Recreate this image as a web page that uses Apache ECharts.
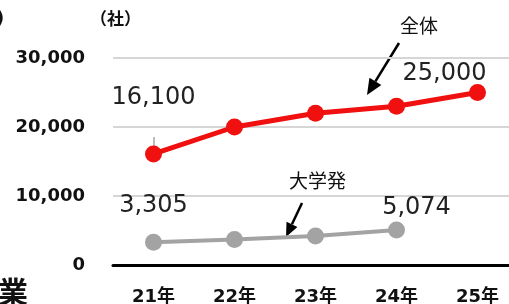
<!DOCTYPE html>
<html>
<head>
<meta charset="utf-8">
<script src="https://cdn.jsdelivr.net/npm/echarts@6/dist/echarts.min.js"></script>
<style>
  html, body { margin: 0; padding: 0; background: #fff; }
  #main { width: 509px; height: 304px; }
</style>
</head>
<body>
<div id="main"></div>
<script>
// data
const years = ['21年', '22年', '23年', '24年', '25年'];
const zentai = [16100, 20000, 22000, 23000, 25000];
const daigaku = [3305, 3700, 4200, 5074, null];
const yTicks = [0, 10000, 20000, 30000];

const numFont = "'DejaVu Sans', 'Noto Sans CJK JP', sans-serif";
const jpFont = "'Noto Sans CJK JP', sans-serif";

// arrow for the annotations
function arrow(x1, y1, x2, y2, hl, hw) {
  const dx = x2 - x1, dy = y2 - y1;
  const len = Math.sqrt(dx * dx + dy * dy);
  const ux = dx / len, uy = dy / len;
  const bx = x2 - ux * hl, by = y2 - uy * hl;
  const px = -uy * hw, py = ux * hw;
  return [
    { type: 'line', shape: { x1: x1, y1: y1, x2: bx, y2: by }, style: { stroke: '#000', lineWidth: 2.5 } },
    { type: 'polygon', shape: { points: [[x2, y2], [bx + px, by + py], [bx - px, by - py]] }, style: { fill: '#000' } }
  ];
}

// label only on some points
function withLabels(values, shown) {
  return values.map((v, i) => {
    if (shown[i]) {
      return { value: v, label: Object.assign({ show: true }, shown[i]) };
    }
    return v;
  });
}

const chart = echarts.init(document.getElementById('main'));

const option = {
  animation: false,
  grid: { left: 113, right: -9, top: 58, bottom: 39, containLabel: false, outerBoundsMode: 'none' },
  xAxis: {
    type: 'category',
    data: years,
    boundaryGap: true,
    axisLine: { lineStyle: { color: '#000', width: 3 } },
    axisTick: { inside: true, length: 8, lineStyle: { color: '#000', width: 3 } },
    axisLabel: { color: '#111', fontSize: 18, fontWeight: 'bold', fontFamily: numFont, margin: 23 }
  },
  yAxis: {
    type: 'value',
    min: 0,
    max: yTicks[yTicks.length - 1],
    interval: 10000,
    axisLine: { show: false },
    axisTick: { show: false },
    splitLine: { lineStyle: { color: '#d6d6d6', width: 2 } },
    axisLabel: {
      color: '#111', fontSize: 18, fontWeight: 'bold', fontFamily: numFont, margin: 28,
      formatter: v => v.toLocaleString('en-US')
    }
  },
  series: [
    {
      name: '全体',
      type: 'line',
      data: withLabels(zentai, {
        0: { position: 'top', distance: 36 },
        4: { position: 'top', offset: [-33, 0], distance: -2 }
      }),
      symbol: 'circle',
      symbolSize: 17,
      lineStyle: { color: '#f01010', width: 5 },
      itemStyle: { color: '#f01010' },
      label: { fontSize: 24, color: '#222', fontFamily: numFont, formatter: p => p.value.toLocaleString('en-US') },
      z: 3
    },
    {
      name: '大学発',
      type: 'line',
      data: withLabels(daigaku, {
        0: { position: 'top', distance: 16 },
        3: { position: 'top', offset: [20, 0], distance: 2 }
      }),
      symbol: 'circle',
      symbolSize: 17,
      lineStyle: { color: '#a3a3a3', width: 4 },
      itemStyle: { color: '#a3a3a3' },
      label: { fontSize: 24, color: '#222', fontFamily: numFont, formatter: p => p.value.toLocaleString('en-US') },
      z: 2
    }
  ],
  graphic: [
    { type: 'text', left: -4, top: 10, style: { text: ')', fontSize: 18, fontWeight: 'bold', fill: '#111', fontFamily: numFont } },
    { type: 'text', left: 90, top: 10, style: { text: '（社）', fontSize: 17, fontWeight: 'bold', fill: '#111', fontFamily: jpFont } },
    { type: 'text', left: -2, top: 277, style: { text: '業', fontSize: 30, fontWeight: 'bold', fill: '#111', fontFamily: jpFont } },
    { type: 'text', left: 400, top: 16, style: { text: '全体', fontSize: 19, fill: '#111', fontFamily: jpFont } },
    { type: 'text', left: 289, top: 171, style: { text: '大学発', fontSize: 19, fill: '#111', fontFamily: jpFont } },
    { type: 'line', shape: { x1: 154, y1: 137, x2: 154, y2: 150 }, style: { stroke: '#bbbbbb', lineWidth: 2 }, z: 1 }
  ].concat(arrow(399, 43, 367, 95, 16, 7), arrow(302, 203, 286, 237, 14, 6))
};

chart.setOption(option);
</script>
</body>
</html>
